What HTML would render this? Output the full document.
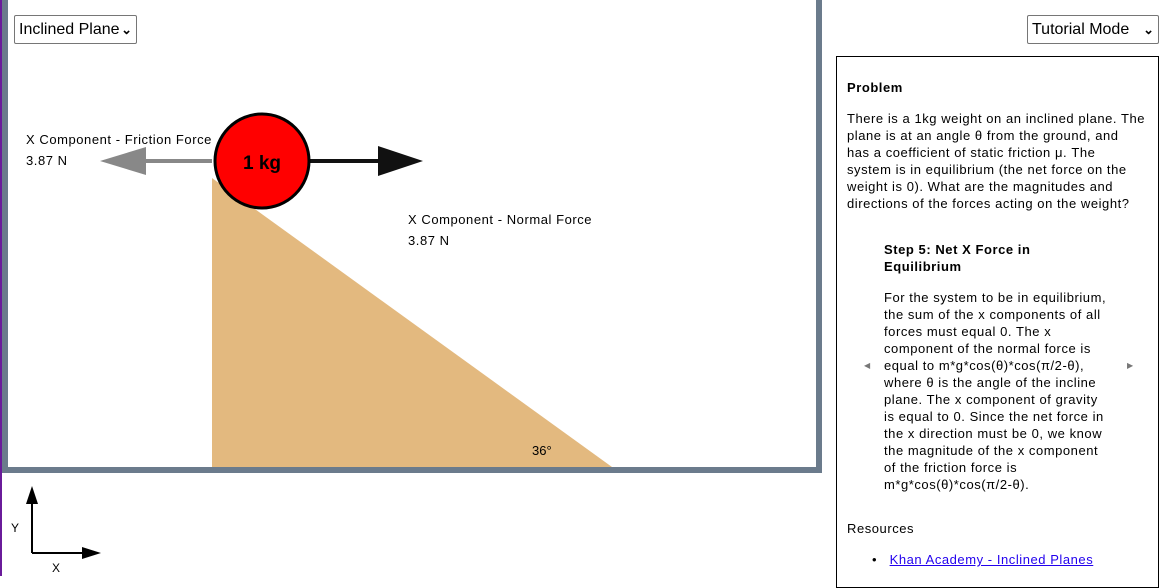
<!DOCTYPE html>
<html><head><meta charset="utf-8"><style>
body{margin:0;width:1171px;height:576px;overflow:hidden;background:#fff;font-family:"Liberation Sans",sans-serif;position:relative}
.a{position:absolute;white-space:nowrap}
.t{font-size:13px;color:#000;letter-spacing:0.55px}
.sel{position:absolute;border:1px solid #767676;border-radius:2px;background:#fff;font-size:16px;height:29px;box-sizing:border-box;padding:3px 4px;line-height:21px;white-space:nowrap;overflow:hidden}
.chev{position:absolute;right:4px;top:0;font-size:13px;font-weight:bold}
</style></head><body>
<div class="a" style="left:0;top:0;width:2px;height:576px;background:#6a1b9a"></div>
<div class="a" style="left:2px;top:0;width:820px;height:473px;background:#6b7b8c"></div>
<div class="a" style="left:8px;top:0;width:808px;height:467px;background:#fff"></div>
<svg class="a" style="left:0;top:0" width="830" height="576">
<polygon points="212,178 612,467 212,467" fill="#e3b97f"/>
<line x1="212" y1="161" x2="140" y2="161" stroke="#888" stroke-width="4"/>
<polygon points="100,161 146,147 146,175" fill="#888"/>
<line x1="305" y1="161" x2="385" y2="161" stroke="#111" stroke-width="4"/>
<polygon points="423,161 378,146 378,176" fill="#111"/>
<circle cx="262" cy="161" r="47" fill="#f00" stroke="#000" stroke-width="3"/>
<text x="262" y="169" text-anchor="middle" font-family="Liberation Sans" font-weight="bold" font-size="19">1 kg</text>
<text x="532" y="455" font-family="Liberation Sans" font-size="13">36°</text>
<line x1="32" y1="553" x2="32" y2="500" stroke="#000" stroke-width="2"/>
<polygon points="32,486 26,504 38,504" fill="#000"/>
<line x1="32" y1="553" x2="86" y2="553" stroke="#000" stroke-width="2"/>
<polygon points="101,553 82,547 82,559" fill="#000"/>
<text x="11" y="532" font-family="Liberation Sans" font-size="12">Y</text>
<text x="52" y="572" font-family="Liberation Sans" font-size="12">X</text>
</svg>
<div class="sel" style="left:14px;top:15px;width:123px">Inclined Plane<span class="chev" style="top:3px">⌄</span></div>
<div class="a t" style="left:26px;top:132px">X Component - Friction Force</div>
<div class="a t" style="left:26px;top:153px">3.87 N</div>
<div class="a t" style="left:408px;top:212px">X Component - Normal Force</div>
<div class="a t" style="left:408px;top:233px">3.87 N</div>
<div class="sel" style="left:1027px;top:15px;width:132px">Tutorial Mode<span class="chev" style="top:3px">⌄</span></div>
<div class="a" style="left:836px;top:56px;width:321px;height:530px;border:1px solid #000"></div>
<div class="a t" style="left:847px;top:80px;font-weight:bold">Problem</div>
<div class="a t" style="left:847px;top:110px;line-height:17px">There is a 1kg weight on an inclined plane. The<br>plane is at an angle θ from the ground, and<br>has a coefficient of static friction μ. The<br>system is in equilibrium (the net force on the<br>weight is 0). What are the magnitudes and<br>directions of the forces acting on the weight?</div>
<div class="a t" style="left:884px;top:241px;font-weight:bold;line-height:17px">Step 5: Net X Force in<br>Equilibrium</div>
<div class="a t" style="left:884px;top:289px;line-height:17px">For the system to be in equilibrium,<br>the sum of the x components of all<br>forces must equal 0. The x<br>component of the normal force is<br>equal to m*g*cos(θ)*cos(π/2-θ),<br>where θ is the angle of the incline<br>plane. The x component of gravity<br>is equal to 0. Since the net force in<br>the x direction must be 0, we know<br>the magnitude of the x component<br>of the friction force is<br>m*g*cos(θ)*cos(π/2-θ).</div>
<div class="a" style="left:864px;top:361px;font-size:8px;color:#777">◀</div>
<div class="a" style="left:1127px;top:361px;font-size:8px;color:#777">▶</div>
<div class="a t" style="left:847px;top:521px">Resources</div>
<div class="a t" style="left:872px;top:552px">•&nbsp;&nbsp; <span style="color:#2200ee;text-decoration:underline">Khan Academy - Inclined Planes</span></div>
</body></html>
